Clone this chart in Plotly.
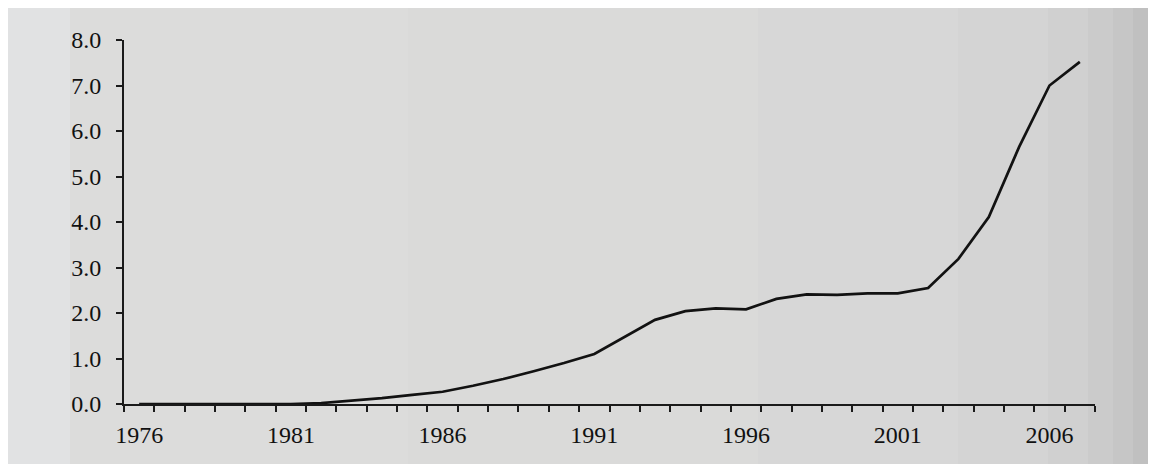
import plotly.graph_objects as go

years = list(range(1976, 2008))
values = [0.0, 0.0, 0.0, 0.0, 0.0, 0.0, 0.02, 0.07, 0.13, 0.20,
          0.27, 0.40, 0.55, 0.72, 0.90, 1.10, 1.47, 1.85, 2.04, 2.10,
          2.08, 2.31, 2.41, 2.40, 2.43, 2.43, 2.55, 3.19, 4.11, 5.65,
          7.00, 7.52]
label_years = [1976, 1981, 1986, 1991, 1996, 2001, 2006]
y_ticks = [0, 1, 2, 3, 4, 5, 6, 7, 8]

# the page body adds an 8px offset, so the figure is drawn slightly smaller
W, H = 1148, 456
L, R, T, B = 116, 61, 32, 60
PW, PH = W - L - R, H - T - B

def px_x(p):
    return (p - L) / PW

def px_y(p):
    return (H - B - p) / PH

fig = go.Figure()
fig.add_trace(go.Scatter(
    x=years, y=values, mode="lines",
    line=dict(color="#121212", width=2.7),
    cliponaxis=False, showlegend=False, hoverinfo="x+y"))

# paper-like background, slightly lighter on the left and darker on the right
shapes = []
strips = [(0, 62, "#e1e2e3"), (62, 400, "#dcdcdb"), (400, 750, "#dadad9"),
          (750, 950, "#d7d7d7"), (950, 1040, "#d4d4d4"), (1040, 1080, "#d0d0d0"),
          (1080, 1105, "#cbcbcb"), (1105, 1125, "#c6c6c6"), (1125, 1148, "#c0c0c0")]
for x0, x1, c in strips:
    shapes.append(dict(type="rect", xref="paper", yref="paper",
                       x0=px_x(x0), x1=px_x(x1), y0=px_y(H), y1=px_y(0),
                       fillcolor=c, line=dict(width=0), layer="below"))

fig.update_layout(
    width=W, height=H,
    margin=dict(l=L, r=R, t=T, b=B),
    paper_bgcolor="#dadad9",
    plot_bgcolor="rgba(0,0,0,0)",
    font=dict(family="Liberation Serif", size=24, color="#111111"),
    shapes=shapes,
    xaxis=dict(
        range=[1975.5, 2007.5],
        tickmode="array", tickvals=label_years, ticktext=[str(v) for v in label_years],
        ticks="", showgrid=False, zeroline=False,
        showline=True, linecolor="#1a1a1a", linewidth=2,
        ticklabelstandoff=8,
        minor=dict(tickmode="array", tickvals=[y - 0.5 for y in years] + [2007.5],
                   ticks="outside", ticklen=6, tickwidth=2, tickcolor="#1a1a1a",
                   showgrid=False),
    ),
    yaxis=dict(
        range=[0, 8],
        tickmode="array", tickvals=y_ticks, ticktext=[f"{v:.1f}" for v in y_ticks],
        ticks="outside", ticklen=6, tickwidth=2, tickcolor="#1a1a1a",
        showgrid=False, zeroline=False,
        showline=True, linecolor="#1a1a1a", linewidth=2,
        ticklabelstandoff=10,
    ),
)

fig.write_html("out.html")
